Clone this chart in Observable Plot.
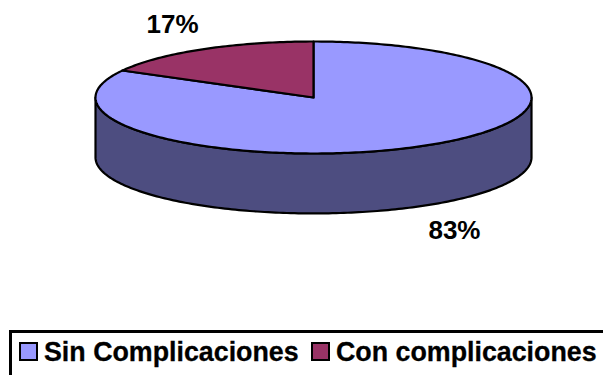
<!DOCTYPE html>
<html>
<head>
<meta charset="utf-8">
<script src="https://cdn.jsdelivr.net/npm/d3@7"></script>
<script src="https://cdn.jsdelivr.net/npm/@observablehq/plot@0.6"></script>
<style>
  html, body { margin: 0; padding: 0; background: #fff; overflow: hidden; }
  #chart svg { display: block; }
  #legend {
    position: absolute; left: 9px; top: 330px; width: 640px; height: 80px;
    box-sizing: border-box; border: 3px solid #000; background: #fff;
    font: bold 26.8px "Liberation Sans", Arial, sans-serif; color: #000;
    -webkit-text-stroke: 0.3px #000;
  }
  #legend .key {
    position: absolute; top: 9px; width: 19px; height: 19px;
    box-sizing: border-box; border: 2.5px solid #000;
  }
  #legend .name { position: absolute; top: 5px; white-space: nowrap; line-height: 29px; }
</style>
</head>
<body>
<div id="chart"></div>
<div id="legend"></div>
<script>
const categories = ["Sin Complicaciones", "Con complicaciones"];
const shares = [83, 17];
const topColors = ["#9999ff", "#993366"];
const wallColor = "#4d4d80";

// Pie plane is a unit circle; the y scale squashes it into a tilted ellipse.
const wallDepth = 1.07;
const step = Math.PI / 180;

// Point on the rim, with the angle measured clockwise from twelve o'clock.
const rim = (a, drop = 0) => ({x: Math.sin(a), y: Math.cos(a) - drop});

function arc(a0, a1, drop = 0) {
  const n = Math.max(1, Math.ceil(Math.abs(a1 - a0) / step));
  return d3.range(n + 1).map(i => rim(a0 + (a1 - a0) * i / n, drop));
}

const total = d3.sum(shares);
const sinEnd = 2 * Math.PI * shares[0] / total;

// Slices run clockwise from twelve o'clock.
const slices = [
  {name: categories[0], color: topColors[0], a0: 0, a1: sinEnd},
  {name: categories[1], color: topColors[1], a0: sinEnd, a1: 2 * Math.PI}
];
const centre = {x: 0, y: 0};
const wedge = s => [centre, ...arc(s.a0, s.a1), centre];

// The visible wall is the near half of the rim and its lowered copy, closed.
const wallEdge = [
  ...arc(Math.PI / 2, 3 * Math.PI / 2),
  ...arc(3 * Math.PI / 2, Math.PI / 2, wallDepth)
];
const wall = [...wallEdge, wallEdge[0]];

// Labels sit outside the rim, along each slice's middle angle.
const labels = slices.map((s, i) => {
  const mid = (s.a0 + s.a1) / 2;
  const c = Math.cos(mid);
  return {
    x: 1.27 * Math.sin(mid),
    y: 1.51 * c - (c < 0 ? wallDepth : 0),
    text: `${shares[i]}%`
  };
});

const lineStyle = {x: "x", y: "y", stroke: "#000", strokeWidth: 2.2, strokeLinejoin: "round", curve: "linear"};

const chart = Plot.plot({
  width: 603,
  height: 330,
  margin: 0,
  x: {domain: [-1, 1], range: [95, 531], axis: null},
  y: {domain: [-1, 1], range: [153, 41], axis: null},
  marks: [
    Plot.line(wall, {...lineStyle, fill: wallColor}),
    ...slices.map(s => Plot.line(wedge(s), {...lineStyle, fill: s.color})),
    Plot.text(labels, {
      x: "x", y: "y", text: "text",
      fontFamily: "Liberation Sans", fontWeight: "bold", fontSize: 26, fill: "#000"
    })
  ]
});
document.getElementById("chart").append(chart);

// Legend box below the plot; it runs past the right and bottom of the page.
const legend = document.getElementById("legend");
const keyLeft = [7, 299];
const nameLeft = [32, 324];
categories.forEach((name, i) => {
  const key = document.createElement("div");
  key.className = "key";
  key.style.left = keyLeft[i] + "px";
  key.style.background = topColors[i];
  const label = document.createElement("div");
  label.className = "name";
  label.style.left = nameLeft[i] + "px";
  label.textContent = name;
  legend.append(key, label);
});
</script>
</body>
</html>
